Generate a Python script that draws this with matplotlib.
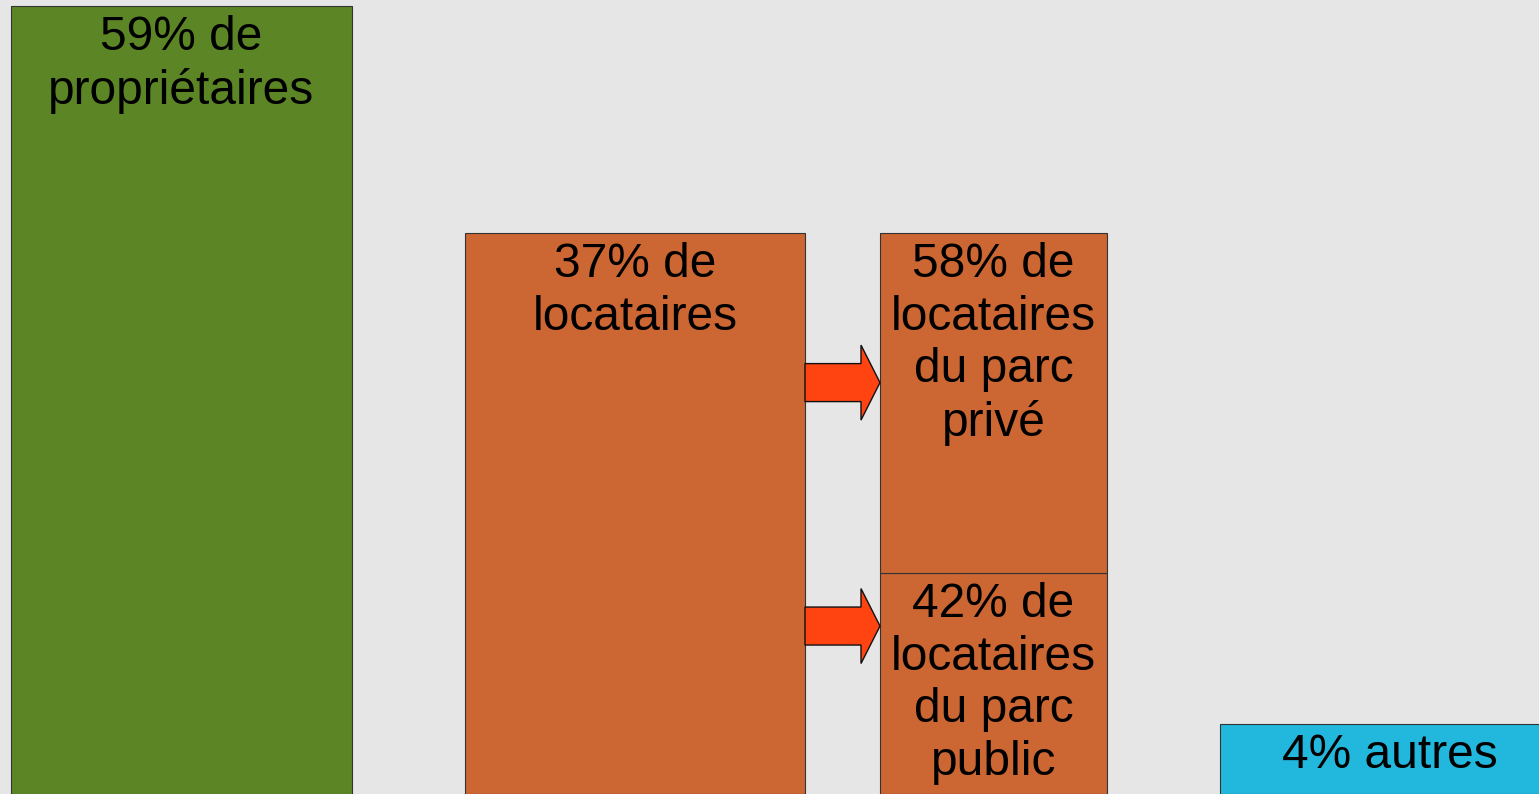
import matplotlib.pyplot as plt
import matplotlib.patches as patches

# chart content
labels = ["59% de\npropriétaires", "37% de\nlocataires", "4% autres"]
heights = [788, 561, 70]          # bar heights as drawn (display units)
split_labels = ["58% de\nlocataires\ndu parc\nprivé", "42% de\nlocataires\ndu parc\npublic"]
split_heights = [340, 221]        # private on top of public
colors = ["#5c8526", "#cc6633", "#22b8dd"]

# layout (pixel-like units, figure is 1539 x 794)
lefts = [11, 465, 1220]
widths = [341, 340, 340]
split_left, split_width = 880, 227
W, H = 1539, 794

plt.rcParams['font.family'] = ['Liberation Sans', 'DejaVu Sans']

fig = plt.figure(figsize=(W / 100, H / 100), dpi=100)
fig.patch.set_facecolor("#e6e6e6")
ax = fig.add_axes([0, 0, 1, 1])
ax.set_facecolor("#e6e6e6")
ax.set_xlim(0, W)
ax.set_ylim(0, H)
ax.axis("off")

fs = 34.5
ls = 1.22
pad = 9

for lab, h, c, x0, w in zip(labels, heights, colors, lefts, widths):
    ax.bar(x0, h, width=w, align="edge", color=c, edgecolor="#333333", linewidth=0.8)
    ax.text(x0 + w / 2, h - pad, lab, ha="center", va="top", fontsize=fs, linespacing=ls)

# stacked breakdown of tenants
public_h, private_h = split_heights[1], split_heights[0]
ax.bar(split_left, public_h, width=split_width, align="edge", color=colors[1],
       edgecolor="#333333", linewidth=0.8)
ax.bar(split_left, private_h, bottom=public_h, width=split_width, align="edge",
       color=colors[1], edgecolor="#333333", linewidth=0.8)
ax.text(split_left + split_width / 2, public_h + private_h - pad, split_labels[0],
        ha="center", va="top", fontsize=fs, linespacing=ls)
ax.text(split_left + split_width / 2, public_h - pad, split_labels[1],
        ha="center", va="top", fontsize=fs, linespacing=ls)

# arrows from the tenant bar to each segment
arrow_x0 = lefts[1] + widths[1]
for yc in [public_h + private_h * 0.56, public_h * 0.76]:
    ax.add_patch(patches.FancyArrow(arrow_x0, yc, split_left - arrow_x0, 0,
                                    width=38, head_width=75, head_length=19,
                                    length_includes_head=True, facecolor="#ff4411",
                                    edgecolor="#111111", linewidth=1))

fig.savefig("out.png", dpi=100, facecolor=fig.get_facecolor())
